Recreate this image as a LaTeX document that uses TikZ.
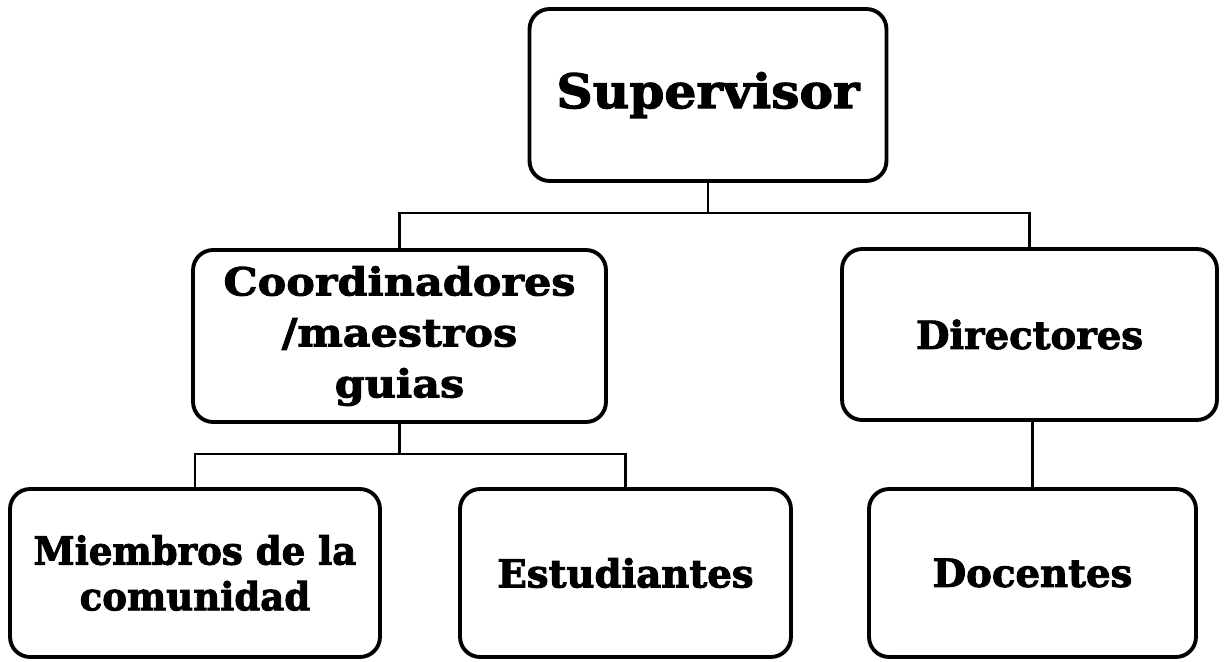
\documentclass[tikz,border=0pt]{standalone}
\usepackage{fontspec}
\setmainfont{DejaVu Serif}[BoldFeatures={FakeBold=2.4}]
\usepackage{tikz}

\tikzset{
  orgbox/.style={draw=black,line width=2.2pt,rounded corners=0.4cm,fill=white,
    align=center,inner sep=0pt,font=\bfseries\fontsize{22}{26}\selectfont},
  topbox/.style={orgbox,font=\bfseries\fontsize{27}{32}\selectfont\addfontfeature{FakeStretch=1.06}},
  orgline/.style={draw=black,line width=1.2pt}
}

\begin{document}
\begin{tikzpicture}[x=0.02cm,y=-0.02cm]
      \useasboundingbox (0,0) rectangle (1225,662);

      \draw (708,95) node
      [topbox,minimum width=7.14cm,minimum height=3.44cm]
      (sup) {Supervisor};

      \draw (399.5,336) node
      [orgbox,minimum width=8.26cm,minimum height=3.44cm,
       font=\bfseries\fontsize{22}{29}\selectfont\addfontfeature{FakeStretch=1.11}]
      (coo) {Coordinadores\\/maestros\\guias};

      \draw (1029.5,334.5) node
      [orgbox,minimum width=7.5cm,minimum height=3.42cm]
      (dir) {Directores};

      \draw (195,573) node
      [orgbox,minimum width=7.4cm,minimum height=3.36cm,
       font=\bfseries\fontsize{22}{26}\selectfont\addfontfeature{FakeStretch=0.96}]
      (mie) {Miembros de la\\comunidad};

      \draw (625.5,573) node
      [orgbox,minimum width=6.62cm,minimum height=3.36cm]
      (est) {Estudiantes};

      \draw (1032.5,573) node
      [orgbox,minimum width=6.54cm,minimum height=3.36cm]
      (doc) {Docentes};

      \coordinate (split1) at (708,213);
      \coordinate (split2) at (399.5,454);

      \scope[orgline]
        \draw (sup.south) -- (split1);
        \draw (coo.north) |- (split1) -| (dir.north);
        \draw (coo.south) -- (split2);
        \draw (mie.north) |- (split2) -| (est.north);
        \draw (dir.south -| doc.north) -- (doc.north);
      \endscope
   \end{tikzpicture}
\end{document}
